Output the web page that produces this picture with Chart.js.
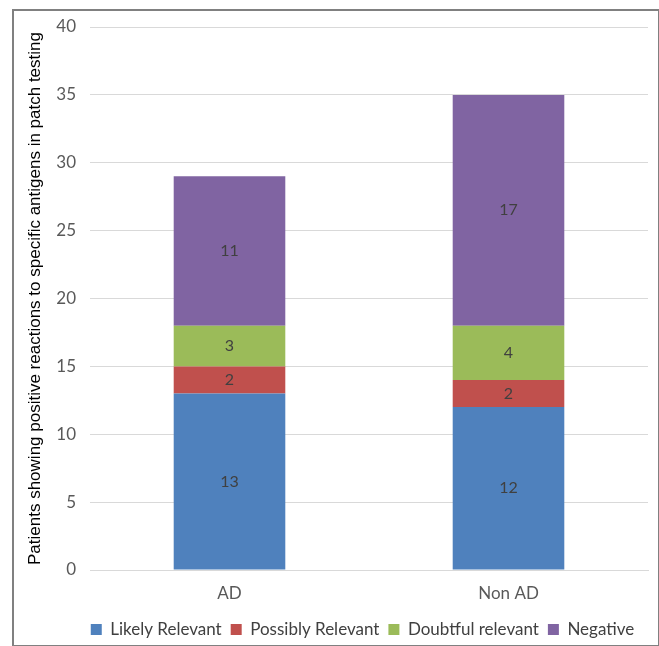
<!DOCTYPE html>
<html><head><meta charset="utf-8">
<script src="https://cdn.jsdelivr.net/npm/chart.js@4"></script>
<style>
html,body{margin:0;padding:0;background:#fff;}
#wrap{position:absolute;left:0;top:0;width:659px;height:646px;}
#frame{position:absolute;left:12px;top:9px;width:644px;height:634px;border:2px solid #808080;pointer-events:none;}
canvas{position:absolute;left:0;top:0;}
</style></head>
<body>
<div id="wrap"><canvas id="c" width="659" height="646"></canvas><div id="frame"></div></div>
<script>
const categories = ["AD", "Non AD"];
const likelyRelevant = [13, 12];
const possiblyRelevant = [2, 2];
const doubtfulRelevant = [3, 4];
const negative = [11, 17];
const seriesNames = ["Likely Relevant", "Possibly Relevant", "Doubtful relevant", "Negative"];
const seriesColors = ["#4f81bd", "#c0504d", "#9bbb59", "#8064a2"];
const yTitle = "Patients showing positive reactions to specific antigens in patch testing";

const labelPlugin = {
  id: 'barLabels',
  afterUpdate(chart) {
    if (chart.legend) { chart.legend.left += 26; chart.legend.right += 26; }
  },
  afterDatasetsDraw(chart) {
    const ctx = chart.ctx;
    ctx.save();
    ctx.font = '16px Lato, sans-serif';
    ctx.fillStyle = '#404040';
    ctx.textAlign = 'center';
    ctx.textBaseline = 'middle';
    chart.data.datasets.forEach((ds, i) => {
      const meta = chart.getDatasetMeta(i);
      meta.data.forEach((bar, j) => {
        const y = (bar.y + bar.base) / 2;
        ctx.fillText(String(ds.data[j]), bar.x, y);
      });
    });
    ctx.restore();
  }
};

const values = [likelyRelevant, possiblyRelevant, doubtfulRelevant, negative];
new Chart(document.getElementById('c'), {
  type: 'bar',
  data: {
    labels: categories,
    datasets: seriesNames.map((n, i) => ({
      label: n,
      data: values[i],
      backgroundColor: seriesColors[i],
      borderWidth: 0,
      barPercentage: 0.4,
      categoryPercentage: 1.0
    }))
  },
  options: {
    responsive: false,
    animation: false,
    layout: { padding: { left: 25, right: 11, top: 27, bottom: -2 } },
    plugins: {
      legend: {
        position: 'bottom',
        labels: {
          boxWidth: 11, boxHeight: 11, padding: 9,
          color: '#404040',
          font: { size: 17, family: 'Lato, sans-serif' }
        }
      },
      tooltip: { enabled: false }
    },
    scales: {
      x: {
        stacked: true,
        grid: { display: false, drawTicks: false },
        border: { display: true, color: '#d9d9d9' },
        ticks: { color: '#595959', padding: 13, font: { size: 17, family: 'Lato, sans-serif' } },
        afterFit(scale) { scale.height = 42; }
      },
      y: {
        stacked: true,
        min: 0, max: 40,
        ticks: { stepSize: 5, color: '#595959', padding: 14, font: { size: 17, family: 'Lato, sans-serif' } },
        grid: { color: '#d9d9d9', drawTicks: false },
        border: { display: false },
        title: { display: true, text: yTitle, color: '#000', padding: 0, font: { size: 17, family: '"Liberation Sans", Arial, sans-serif' } },
        afterFit(scale) { scale.width = 65; }
      }
    }
  },
  plugins: [labelPlugin]
});
</script>
</body></html>
